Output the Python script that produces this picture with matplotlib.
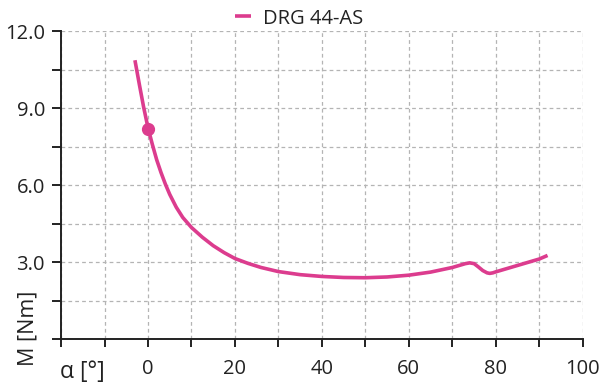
import matplotlib
matplotlib.use("Agg")
import matplotlib.pyplot as plt
from matplotlib.ticker import FixedLocator, FuncFormatter

# data
alpha = [-3.0, -2.0, -1.0, 0.0, 1.0, 2.0, 3.0, 4.0, 5.0, 6.5, 8.0, 10.0, 12.5,
         15.0, 17.5, 20.0, 23.0, 26.0, 30.0, 35.0, 40.0, 45.0, 50.0, 55.0,
         60.0, 65.0, 70.0, 72.0, 73.0, 74.0, 75.0, 76.0, 77.0, 78.0, 78.6,
         79.3, 80.0, 85.0, 90.0, 91.9]
torque = [10.88, 9.95, 9.05, 8.25, 7.6, 7.0, 6.5, 6.05, 5.65, 5.15, 4.75, 4.36, 3.98,
          3.65, 3.38, 3.15, 2.96, 2.80, 2.64, 2.52, 2.45, 2.41, 2.40, 2.43,
          2.50, 2.62, 2.80, 2.90, 2.95, 2.98, 2.95, 2.82, 2.68, 2.59, 2.57,
          2.59, 2.63, 2.88, 3.13, 3.27]
marker_x = [0.1]
marker_y = [8.2]
series_label = "DRG 44-AS"
x_ticks = list(range(-20, 101, 10))
x_labels = [0, 20, 40, 60, 80, 100]
y_ticks = [0, 1.5, 3.0, 4.5, 6.0, 7.5, 9.0, 10.5, 12.0]
y_labels = [3.0, 6.0, 9.0, 12.0]

color = "#dc3c8e"
plt.rcParams['font.family'] = ['Open Sans', 'DejaVu Sans']

fig = plt.figure(figsize=(6.0, 3.85), dpi=100)
ax = fig.add_axes([0.1017, 0.1187, 0.8696, 0.7995])

ax.plot(alpha, torque, color=color, lw=2.6, solid_capstyle='butt',
        solid_joinstyle='round', label=series_label, zorder=3)
ax.plot(marker_x, marker_y, 'o', color=color, ms=8.5, zorder=4)

ax.set_xlim(-20, 100)
ax.set_ylim(0, 12)
ax.xaxis.set_major_locator(FixedLocator(x_ticks))
ax.yaxis.set_major_locator(FixedLocator(y_ticks))
ax.xaxis.set_major_formatter(FuncFormatter(lambda v, p: f"{int(round(v))}" if round(v) in x_labels else ""))
ax.yaxis.set_major_formatter(FuncFormatter(lambda v, p: f"{v:.1f}" if any(abs(v - l) < 1e-6 for l in y_labels) else ""))

ax.grid(True, color="#b4b4b4", linestyle=(0, (3.0, 2.5)), linewidth=0.9)
ax.set_axisbelow(True)
for s in ['top', 'right']:
    ax.spines[s].set_visible(False)
for s in ['left', 'bottom']:
    ax.spines[s].set_color('#222222')
    ax.spines[s].set_linewidth(1.4)
ax.tick_params(axis='both', colors='#222222', width=1.4, labelsize=14.5, labelcolor='#222222')
ax.tick_params(axis='y', length=6.5, pad=5)
ax.tick_params(axis='x', length=5.5, pad=9)

fig.text(0.137, 0.034, "α [°]", fontsize=16.5, color='#222222', ha='center', va='center')
fig.text(0.047, 0.148, "M [Nm]", fontsize=15.5, color='#222222', ha='center', va='center', rotation=90)

fig.legend(loc='upper center', bbox_to_anchor=(0.498, 1.025), frameon=False,
           handlelength=0.8, handletextpad=0.6, fontsize=14.5, labelcolor='#222222')

fig.savefig("out.png", dpi=100)
